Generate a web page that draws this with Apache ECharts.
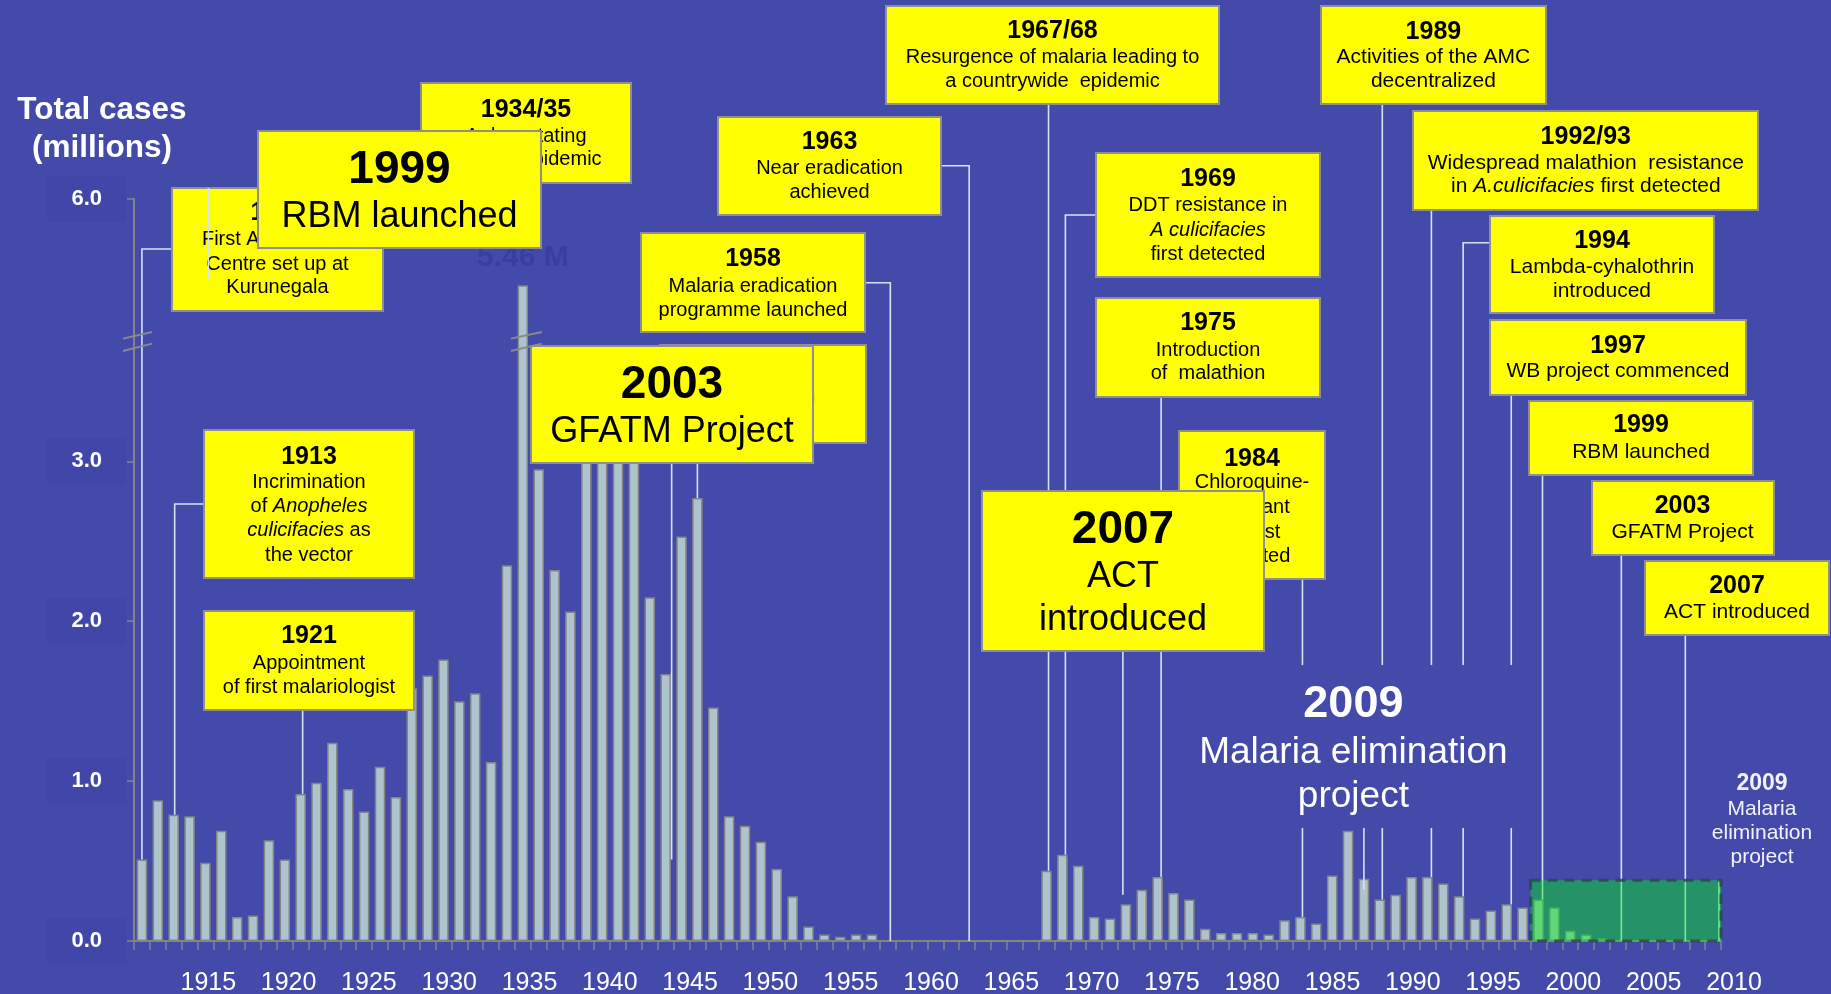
<!DOCTYPE html>
<html>
<head>
<meta charset="utf-8">
<script src="https://cdn.jsdelivr.net/npm/echarts@6/dist/echarts.min.js"></script>
<style>
  html, body { margin: 0; padding: 0; background: #434aaa; }
  #chart { width: 1831px; height: 994px; }
</style>
</head>
<body>
<div id="chart"></div>
<script>
const FONT = 'Liberation Sans, Arial, sans-serif';
const BG = '#434aaa';
const AXIS = '#858585';

// ---- data ----
const years = [];
for (let y = 1911; y <= 2010; y++) years.push(String(y));

// total cases (millions), one bar per year
const cases = [
  0.51, 0.88, 0.79, 0.78, 0.49, 0.69, 0.15, 0.16, 0.63, 0.51,   // 1911-1920
  0.92, 0.99, 1.24, 0.95, 0.81, 1.09, 0.90, 1.58, 1.66, 1.76,   // 1921-1930
  1.50, 1.55, 1.12, 2.35, 5.46, 2.95, 2.32, 2.06, 3.40, 3.45,   // 1931-1940
  3.30, 3.20, 2.15, 1.67, 2.53, 2.77, 1.46, 0.78, 0.72, 0.62,   // 1941-1950
  0.45, 0.28, 0.09, 0.04, 0.026, 0.04, 0.04, 0, 0, 0,           // 1951-1960
  0, 0, 0, 0, 0, 0, 0, 0.44, 0.54, 0.47,                        // 1961-1970
  0.15, 0.14, 0.23, 0.32, 0.40, 0.30, 0.26, 0.076, 0.05, 0.05,  // 1971-1980
  0.05, 0.04, 0.13, 0.15, 0.11, 0.41, 0.69, 0.39, 0.26, 0.29,   // 1981-1990
  0.40, 0.40, 0.36, 0.28, 0.14, 0.19, 0.23, 0.21, 0.26, 0.21,   // 1991-2000
  0.064, 0.04, 0.016, 0.004, 0, 0, 0, 0, 0, 0                   // 2001-2010
];

const labelYears = [1915, 1920, 1925, 1930, 1935, 1940, 1945, 1950, 1955, 1960,
  1965, 1970, 1975, 1980, 1985, 1990, 1995, 2000, 2005, 2010];
const yTicks = [0, 1, 2, 3, 6];
const peakYear = '1935';
const peakLabel = '5.46 M';
const eliminationFrom = '1999';

// callout texts
const notes = [
  { id: 'n1911', title: '1911', lines: ['First Anti-Malaria', 'Centre set up at', 'Kurunegala'] },
  { id: 'n1934', title: '1934/35', lines: ['A devastating', 'malaria epidemic'] },
  { id: 'big1999', title: '1999', lines: ['RBM launched'] },
  { id: 'n1963', title: '1963', lines: ['Near eradication', 'achieved'] },
  { id: 'n1958', title: '1958', lines: ['Malaria eradication', 'programme launched'] },
  { id: 'n1946', title: '1945/46', lines: ['Introduction', 'of DDT'] },
  { id: 'big2003', title: '2003', lines: ['GFATM Project'] },
  { id: 'n1913', title: '1913', lines: ['Incrimination', 'of {i|Anopheles}', '{i|culicifacies} as', 'the vector'] },
  { id: 'n1921', title: '1921', lines: ['Appointment', 'of first malariologist'] },
  { id: 'n1967', title: '1967/68', lines: ['Resurgence of malaria leading to', 'a countrywide  epidemic'] },
  { id: 'n1969', title: '1969', lines: ['DDT resistance in', '{i|A culicifacies}', 'first detected'] },
  { id: 'n1975', title: '1975', lines: ['Introduction', 'of  malathion'] },
  { id: 'n1984', title: '1984', lines: ['Chloroquine-', 'resistant', 'Pf first', 'detected'] },
  { id: 'big2007', title: '2007', lines: ['ACT', 'introduced'] },
  { id: 'n1989', title: '1989', lines: ['Activities of the AMC', 'decentralized'] },
  { id: 'n1992', title: '1992/93', lines: ['Widespread malathion  resistance', 'in {i|A.culicifacies} first detected'] },
  { id: 'n1994', title: '1994', lines: ['Lambda-cyhalothrin', 'introduced'] },
  { id: 'n1997', title: '1997', lines: ['WB project commenced'] },
  { id: 'n1999', title: '1999', lines: ['RBM launched'] },
  { id: 'n2003', title: '2003', lines: ['GFATM Project'] },
  { id: 'n2007', title: '2007', lines: ['ACT introduced'] }
];
const bigNote = { title: '2009', lines: ['Malaria elimination', 'project'] };
const sideNote = { title: '2009', lines: ['Malaria', 'elimination', 'project'] };

// ---- layout of the callouts: rect [x, y, w, h], text centre x, line centres y, font sizes ----
const boxLayout = {
  n1911:   { rect: [172, 188, 211, 123], cx: 277.5, ys: [213, 239, 264, 287], size: [25, 20] },
  n1934:   { rect: [421, 83, 210, 100], cx: 526, ys: [110, 136.7, 159.3], size: [25, 20] },
  big1999: { rect: [258, 131, 283, 117], cx: 399.5, ys: [170, 216.7], size: [46, 36] },
  n1963:   { rect: [718, 117, 223, 98], cx: 829.5, ys: [141.7, 168.3, 192.7], size: [25, 20] },
  n1958:   { rect: [641, 233, 224, 99], cx: 753, ys: [259.3, 286, 310], size: [25, 20] },
  n1946:   { rect: [660, 345, 206, 98], cx: 763, ys: [371, 397, 421], size: [25, 20] },
  big2003: { rect: [531, 346, 282, 117], cx: 672, ys: [385, 431.7], size: [46, 36] },
  n1913:   { rect: [204, 430, 210, 148], cx: 309, ys: [456.7, 482.5, 506.5, 530.8, 555], size: [25, 20] },
  n1921:   { rect: [204, 611, 210, 99], cx: 309, ys: [636.6, 663.5, 687.9], size: [25, 20] },
  n1967:   { rect: [886, 6, 333, 98], cx: 1052.5, ys: [31.6, 57.6, 81.7], size: [25, 20] },
  n1969:   { rect: [1096, 153, 224, 124], cx: 1208, ys: [179.3, 205.7, 230, 254], size: [25, 20] },
  n1975:   { rect: [1096, 298, 224, 99], cx: 1208, ys: [323.3, 350, 373.3], size: [25, 20] },
  n1984:   { rect: [1179, 431, 146, 148], cx: 1252, ys: [458.7, 482.3, 507.7, 532.3, 556], size: [25, 20] },
  big2007: { rect: [982, 491, 282, 160], cx: 1123, ys: [530, 576.7, 620], size: [46, 36] },
  n1989:   { rect: [1321, 6, 225, 98], cx: 1433.4, ys: [31.7, 57.7, 81.5], size: [25, 21] },
  n1992:   { rect: [1413, 111, 345, 99], cx: 1585.8, ys: [137, 163, 186.5], size: [25, 21] },
  n1994:   { rect: [1490, 216, 224, 97], cx: 1602, ys: [240.7, 267.6, 291], size: [25, 21] },
  n1997:   { rect: [1490, 320, 256, 75], cx: 1618, ys: [346, 371.6], size: [25, 21] },
  n1999:   { rect: [1529, 401, 224, 74], cx: 1641, ys: [425.5, 451.9], size: [25, 21] },
  n2003:   { rect: [1592, 481, 182, 74], cx: 1682.5, ys: [506.6, 532.5], size: [25, 21] },
  n2007:   { rect: [1645, 561, 184, 74], cx: 1737, ys: [586.5, 612.2], size: [25, 21] }
};

// leader lines: year pointed at, start (box edge), optional elbow, end value ('bar' = top of that bar)
const leaders = [
  { year: '1911', from: [172, 249], elbow: true, to: 'bar' },
  { year: '1913', from: [204, 504], elbow: true, to: 'bar', dx: 1 },
  { year: '1921', from: [0, 710], to: 'bar', dx: 2 },
  { year: '1944', from: [0, 443], to: 0.51, dx: 6 },
  { year: '1946', from: [0, 443], to: 'bar' },
  { year: '1958', from: [865, 282.7], elbow: true, to: 0, dx: 2.5 },
  { year: '1963', from: [941, 165.7], elbow: true, to: 0, dx: 2 },
  { year: '1968', from: [0, 104], to: 'bar', dx: 2 },
  { year: '1969', from: [1096, 215], elbow: true, to: 'bar', dx: 3 },
  { year: '1975', from: [0, 397], to: 'bar', dx: 3.5 },
  { year: '1973', from: [0, 651], to: 0.29, dx: -3 },
  { year: '1984', from: [0, 579], to: 'bar', dx: 2 },
  { year: '1988', from: [0, 665], to: 0.32 },
  { year: '1989', from: [0, 104], to: 'bar', dx: 2.5 },
  { year: '1992', from: [0, 210], to: 'bar', dx: 4 },
  { year: '1994', from: [1490, 242.8], elbow: true, to: 'bar', dx: 4 },
  { year: '1997', from: [0, 395], to: 'bar', dx: 4.5 },
  { year: '1999', from: [0, 475], to: 'bar', dx: 4 },
  { year: '2004', from: [0, 555], to: 0, dx: 3.5 },
  { year: '2008', from: [0, 635], to: 0, dx: 4 }
];

const option = {
  backgroundColor: BG,
  animation: false,
  textStyle: { fontFamily: FONT },
  title: {
    text: 'Total cases\n(millions)',
    left: 97,
    top: 86,
    textAlign: 'center',
    textStyle: { color: '#fff', fontSize: 31.5, fontWeight: 'bold', lineHeight: 38, fontFamily: FONT }
  },
  grid: [
    { left: 134, right: 110, top: 199, bottom: 53, outerBoundsMode: 'none' },
    { left: 128, right: 97, top: 199, bottom: 53, outerBoundsMode: 'none' }
  ],
  xAxis: [
    {
      type: 'category',
      gridIndex: 0,
      data: years,
      boundaryGap: true,
      axisLine: { lineStyle: { color: AXIS, width: 2 } },
      axisTick: { show: true, interval: 0, length: 9, lineStyle: { color: AXIS, width: 1.5 } },
      axisLabel: { show: false },
      splitLine: { show: false }
    },
    {
      type: 'value',
      gridIndex: 1,
      min: 1910,
      max: 2010,
      axisLine: { show: false },
      axisTick: { show: false },
      splitLine: { show: false },
      axisLabel: {
        customValues: labelYears,
        formatter: (v) => String(v),
        color: '#fff',
        fontSize: 25,
        margin: 30,
        fontFamily: FONT
      }
    }
  ],
  yAxis: [
    {
      type: 'value',
      gridIndex: 0,
      min: 0,
      max: 6,
      breaks: [{ start: 3.75, end: 5.11, gap: 0 }],
      breakArea: { show: false },
      axisLine: { show: true, lineStyle: { color: AXIS, width: 2 } },
      axisTick: { show: true, customValues: yTicks, length: 7, lineStyle: { color: AXIS, width: 1.5 } },
      splitLine: { show: false },
      axisLabel: {
        customValues: yTicks,
        formatter: (v) => v.toFixed(1),
        color: '#fff',
        fontSize: 22,
        fontWeight: 'bold',
        fontFamily: FONT,
        margin: 8,
        backgroundColor: '#4047a8',
        padding: [12, 24, 12, 24]
      }
    },
    { type: 'value', gridIndex: 1, show: false, min: 0, max: 1 }
  ],
  series: [
    {
      type: 'bar',
      xAxisIndex: 0,
      yAxisIndex: 0,
      barWidth: 10.5,
      itemStyle: { color: '#adc4cc', borderColor: AXIS, borderWidth: 1.5 },
      data: cases.map((v, i) => years[i] === peakYear
        ? {
            value: v,
            label: {
              show: true, position: 'top', distance: 13, formatter: peakLabel,
              color: '#393e9f', fontSize: 30, fontWeight: 'bold', fontFamily: FONT
            }
          }
        : v)
    }
  ]
};

const chart = echarts.init(document.getElementById('chart'));
chart.setOption(option);

// ---- callouts, placed with the chart's own scales ----
const toPx = (idx, v) => chart.convertToPixel({ seriesIndex: 0 }, [idx, v]);
const step = toPx(1, 0)[0] - toPx(0, 0)[0];
const xOf = (year, dx) => toPx(years.indexOf(year), 0)[0] + (dx || 0);
const yOf = (v) => toPx(0, v)[1];
const LEAD = '#d3e5f3';
const g = [];

leaders.forEach((l) => {
  const x = xOf(l.year, l.dx);
  const endV = l.to === 'bar' ? cases[years.indexOf(l.year)] : l.to;
  const y1 = yOf(endV);
  const pts = l.elbow
    ? [[l.from[0], l.from[1]], [x, l.from[1]], [x, y1]]
    : [[x, l.from[1]], [x, y1]];
  g.push({ type: 'polyline', z: 5, silent: true, shape: { points: pts }, style: { stroke: LEAD, lineWidth: 1.6, fill: null } });
});

// elimination period box
const axisLeft = toPx(0, 0)[0] - step / 2;
const elimLeft = xOf(eliminationFrom) - step / 2;
const elimRight = toPx(years.length - 1, 0)[0] + step / 2;
const elimTop = yOf(0.38);
const base = yOf(0);
g.push({ type: 'line', z: 5, silent: true, shape: { x1: elimRight - 2, y1: elimTop, x2: elimRight - 2, y2: base }, style: { stroke: LEAD, lineWidth: 1.6 } });
g.push({
  type: 'rect', z: 7, silent: true,
  shape: { x: elimLeft, y: elimTop, width: elimRight - elimLeft, height: base - elimTop },
  style: { fill: 'rgba(0,240,20,0.44)', stroke: 'rgba(45,70,80,0.85)', lineWidth: 3, lineDash: [10, 7] }
});

// axis break marks on the y axis and on the peak bar
const yBreak = yOf(3.75);
const peakX = xOf(peakYear);
[[axisLeft - 11, axisLeft + 18], [peakX - 12, peakX + 19]].forEach(([a, b]) => {
  g.push({ type: 'line', z: 6, silent: true, shape: { x1: a, y1: yBreak - 2.7, x2: b, y2: yBreak - 9.3 }, style: { stroke: '#8a8a8a', lineWidth: 2 } });
  g.push({ type: 'line', z: 6, silent: true, shape: { x1: a, y1: yBreak + 9.7, x2: b, y2: yBreak + 2.3 }, style: { stroke: '#8a8a8a', lineWidth: 2 } });
});

function textEl(z, x, y, text, size, bold, color) {
  return {
    type: 'text', z, silent: true, x, y,
    style: {
      text, fill: color, fontSize: size, fontWeight: bold ? 'bold' : 'normal', fontFamily: FONT,
      textAlign: 'center', textVerticalAlign: 'middle', align: 'center', verticalAlign: 'middle',
      rich: { i: { fontStyle: 'italic', fontSize: size, fontFamily: FONT, fill: color, color } }
    }
  };
}

notes.forEach((n, i) => {
  const L = boxLayout[n.id];
  const z = 20 + i * 3;
  g.push({
    type: 'rect', z, silent: true,
    shape: { x: L.rect[0], y: L.rect[1], width: L.rect[2], height: L.rect[3] },
    style: { fill: '#ffff00', stroke: '#8f8f8f', lineWidth: 2 }
  });
  g.push(textEl(z + 1, L.cx, L.ys[0], n.title, L.size[0], true, '#000'));
  n.lines.forEach((t, k) => g.push(textEl(z + 1, L.cx, L.ys[k + 1], t, L.size[1], false, '#000')));
  if (n.id === 'n1911') {
    const x = xOf('1915', 3);
    g.push({ type: 'line', z: z + 2, silent: true, shape: { x1: x, y1: 188, x2: x, y2: 280 }, style: { stroke: LEAD, lineWidth: 1.6 } });
  }
});

// big white note with its own background patch
g.push({ type: 'rect', z: 8, silent: true, shape: { x: 1190, y: 665, width: 330, height: 163 }, style: { fill: BG } });
g.push(textEl(9, 1353.4, 705, bigNote.title, 45, true, '#fff'));
g.push(textEl(9, 1353.4, 753, bigNote.lines[0], 37, false, '#fff'));
g.push(textEl(9, 1353.4, 797, bigNote.lines[1], 37, false, '#fff'));

// small note at the right
g.push(textEl(9, 1762, 783.3, sideNote.title, 23, true, '#f2f2ff'));
sideNote.lines.forEach((t, k) => g.push(textEl(9, 1762, 809 + k * 24, t, 21, false, '#f2f2ff')));

chart.setOption({ graphic: g });
</script>
</body>
</html>
